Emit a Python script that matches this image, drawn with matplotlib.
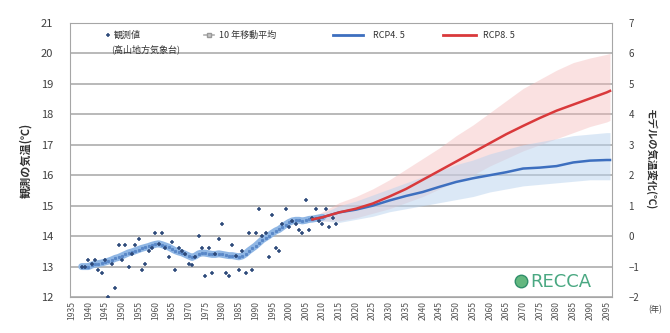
import matplotlib.pyplot as plt
import numpy as np

plt.rcParams['font.family'] = ['Noto Sans CJK JP', 'DejaVu Sans']

# annual observed mean temperature (Takayama)
obs_years = list(range(1938, 2015))
obs_temp = [13.0, 13.0, 13.2, 13.1, 13.2, 12.9, 12.8, 13.2, 12.0, 13.1,
            12.3, 13.7, 13.2, 13.7, 13.0, 13.4, 13.7, 13.9, 12.9, 13.1,
            13.5, 13.6, 14.1, 13.75, 14.1, 13.6, 13.3, 13.8, 12.9, 13.6,
            13.5, 13.4, 13.1, 13.05, 13.3, 14.0, 13.6, 12.7, 13.6, 12.8,
            13.4, 13.9, 14.4, 12.8, 12.7, 13.7, 13.35, 12.9, 13.5, 12.8,
            14.1, 12.9, 14.1, 14.9, 14.0, 14.1, 13.3, 14.7, 13.6, 13.5,
            14.4, 14.9, 14.3, 14.5, 14.4, 14.2, 14.1, 15.2, 14.2, 14.6,
            14.9, 14.5, 14.4, 14.9, 14.3, 14.6, 14.4]

# 10-year moving average
ma_years = list(range(1938, 2011))
ma_temp = [13.0, 13.0, 13.0, 13.05, 13.08, 13.1, 13.12, 13.15, 13.18, 13.22,
           13.27, 13.3, 13.35, 13.4, 13.45, 13.48, 13.52, 13.56, 13.6, 13.63,
           13.66, 13.7, 13.73, 13.75, 13.72, 13.68, 13.64, 13.58, 13.52, 13.48,
           13.45, 13.4, 13.35, 13.3, 13.35, 13.42, 13.45, 13.44, 13.42, 13.4,
           13.4, 13.42, 13.4, 13.38, 13.36, 13.36, 13.34, 13.32, 13.35, 13.42,
           13.52, 13.6, 13.68, 13.78, 13.88, 13.95, 14.02, 14.1, 14.17, 14.22,
           14.3, 14.38, 14.45, 14.5, 14.52, 14.52, 14.5, 14.52, 14.55, 14.56,
           14.58, 14.6, 14.62]

# model projections
rcp_years = [2007, 2010, 2015, 2020, 2025, 2030, 2035, 2040, 2045, 2050,
             2055, 2060, 2065, 2070, 2075, 2080, 2085, 2090, 2095, 2096]
rcp45 = [14.55, 14.62, 14.78, 14.87, 15.0, 15.17, 15.32, 15.45, 15.62, 15.78,
         15.9, 16.0, 16.1, 16.22, 16.25, 16.3, 16.42, 16.48, 16.5, 16.5]
rcp45_lo = [14.5, 14.5, 14.45, 14.55, 14.65, 14.8, 14.9, 15.0, 15.1, 15.2,
            15.3, 15.45, 15.55, 15.65, 15.7, 15.75, 15.8, 15.85, 15.85, 15.85]
rcp45_hi = [14.6, 14.75, 15.0, 15.15, 15.35, 15.55, 15.75, 15.95, 16.15, 16.35,
            16.5, 16.7, 16.85, 17.0, 17.1, 17.2, 17.3, 17.35, 17.4, 17.4]
rcp85 = [14.55, 14.62, 14.78, 14.9, 15.07, 15.3, 15.55, 15.85, 16.15, 16.45,
         16.75, 17.05, 17.35, 17.62, 17.88, 18.12, 18.32, 18.52, 18.72, 18.77]
rcp85_lo = [14.5, 14.5, 14.5, 14.6, 14.75, 14.9, 15.1, 15.3, 15.55, 15.8,
            16.0, 16.3, 16.55, 16.8, 17.0, 17.2, 17.4, 17.6, 17.75, 17.8]
rcp85_hi = [14.6, 14.8, 15.1, 15.3, 15.55, 15.85, 16.2, 16.55, 16.9, 17.3,
            17.65, 18.05, 18.45, 18.85, 19.15, 19.45, 19.7, 19.85, 19.97, 20.0]

tick_years = list(range(1935, 2100, 5))

fig = plt.figure(figsize=(6.7, 3.33), dpi=100)
ax = fig.add_axes([0.1045, 0.108, 0.8085, 0.823])

ax.fill_between(rcp_years, rcp85_lo, rcp85_hi, color='#f4b6b6', alpha=0.4, lw=0, zorder=1)
ax.fill_between(rcp_years, rcp45_lo, rcp45_hi, color='#b9d3ee', alpha=0.5, lw=0, zorder=1)

ax.plot(ma_years, ma_temp, color='#8fb6e4', lw=5, solid_capstyle='round', zorder=3)
ax.plot(ma_years, ma_temp, ls='none', marker='s', ms=1.2, color='#5a88c8', zorder=3)
ax.plot(obs_years, obs_temp, ls='none', marker='+', ms=3.2, mew=1.1, color='#2e4a7a', zorder=4)
ax.plot(rcp_years, rcp45, color='#3d6fbf', lw=1.8, zorder=5)
ax.plot(rcp_years, rcp85, color='#d9393b', lw=1.8, zorder=5)

ax.set_xlim(1934.5, 2096.5)
ax.set_ylim(12, 21)
ax.set_yticks(range(12, 22))
ax.grid(axis='y', color='#a6a6a6', lw=1.1)
ax.set_axisbelow(True)
for s in ax.spines.values():
    s.set_color('#a6a6a6')
ax.tick_params(axis='y', length=0, labelsize=8, labelcolor='#404040', pad=12)
ax.set_xticks(tick_years)
ax.set_xticklabels([str(y) for y in tick_years], rotation=90, fontsize=6.2, color='#555555')
ax.tick_params(axis='x', length=0, pad=3)
ax.set_ylabel('観測の気温(℃)', fontsize=8, fontweight='bold', color='#333333', labelpad=6)

# right-hand axis: model temperature change relative to 14 ℃
ax2 = ax.twinx()
ax2.set_ylim(12 - 14, 21 - 14)
ax2.set_yticks(range(-2, 8))
ax2.tick_params(axis='y', length=0, labelsize=7, labelcolor='#404040', pad=12)
for s in ax2.spines.values():
    s.set_visible(False)
ax2.set_ylabel('モデルの気温変化(℃)', fontsize=7.5, fontweight='bold', color='#333333',
               rotation=270, labelpad=12)

fig.text(0.978, 0.062, '(年)', fontsize=6, color='#444444', ha='center')

# legend drawn along the top of the plot area
ax.plot([1946], [20.6], ls='none', marker='+', ms=3.5, mew=1.1, color='#2e4a7a', zorder=6)
ax.text(1947.5, 20.6, '観測値', fontsize=6.5, va='center', color='#333333')
ax.text(1946.8, 20.15, '(高山地方気象台)', fontsize=6.5, va='center', color='#333333')
ax.plot([1974.5, 1977.5], [20.6, 20.6], color='#b0b0b0', lw=1.2)
ax.plot([1976], [20.6], ls='none', marker='s', ms=3.5, mfc='#c8c8c8', mec='#999999')
ax.text(1979, 20.6, '10 年移動平均', fontsize=6.5, va='center', color='#333333')
ax.plot([2013, 2022], [20.6, 20.6], color='#3d6fbf', lw=2)
ax.text(2025, 20.6, 'RCP4. 5', fontsize=6.5, va='center', color='#333333')
ax.plot([2046, 2056], [20.6, 20.6], color='#d9393b', lw=2)
ax.text(2058, 20.6, 'RCP8. 5', fontsize=6.5, va='center', color='#333333')

# RECCA mark in the lower right corner
ax.plot([2069.5], [12.53], ls='none', marker='o', ms=9, mfc='#63b77f', mec='#2f8f6a', zorder=6)
ax.text(2072, 12.5, 'RECCA', fontsize=13, va='center', color='#4aa882', family='DejaVu Sans')

fig.savefig('out.png', dpi=100)
